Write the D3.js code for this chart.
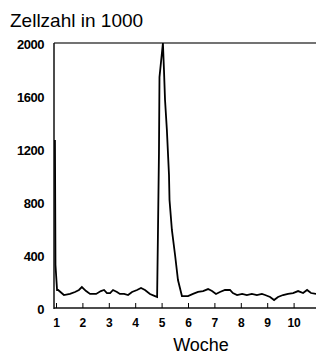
<!DOCTYPE html>
<html>
<head>
  <script src="https://cdn.jsdelivr.net/npm/d3@7/dist/d3.min.js"></script>
  <style>
    body { margin: 0; background: #fff; }
  </style>
</head>
<body>
<script>
  // weeks (Woche) and cell counts (Zellzahl in 1000)
  const weeks = [0.96, 0.98, 1.04, 1.08, 1.30, 1.53, 1.72, 1.87, 1.98, 2.14, 2.29, 2.52, 2.70, 2.82, 2.93,
    3.05, 3.16, 3.31, 3.42, 3.58, 3.73, 3.88, 4.07, 4.22, 4.37, 4.56, 4.75, 4.83, 4.86, 4.90, 4.92,
    5.05, 5.09, 5.13, 5.20, 5.28, 5.30, 5.39, 5.51, 5.62, 5.77, 6.00, 6.19, 6.38, 6.57, 6.76, 6.91,
    7.06, 7.21, 7.40, 7.59, 7.70, 7.86, 8.05, 8.23, 8.42, 8.61, 8.80, 8.92, 9.11, 9.26, 9.41, 9.60,
    9.79, 9.98, 10.17, 10.36, 10.51, 10.66, 10.85];
  const cells = [1268, 325, 136, 136, 98, 106, 121, 136, 158, 128, 106, 106, 128, 136, 113,
    113, 136, 121, 106, 106, 98, 121, 136, 151, 136, 106, 90, 83, 536, 1170, 1743,
    2000, 1796, 1570, 1343, 1004, 815, 589, 400, 211, 90, 90, 106, 121, 128, 143, 128,
    106, 121, 136, 136, 113, 98, 106, 98, 106, 98, 106, 98, 83, 60, 83, 98,
    106, 113, 128, 113, 136, 113, 106];
  const xTicks = [1, 2, 3, 4, 5, 6, 7, 8, 9, 10];
  const yTicks = [0, 400, 800, 1200, 1600, 2000];

  const width = 316, height = 356;
  const font = "Arial, 'Liberation Sans', sans-serif";
  const svg = d3.select("body").append("svg")
    .attr("width", width)
    .attr("height", height);

  const x = d3.scaleLinear().domain([1, 11]).range([56, 320]);
  const y = d3.scaleLinear().domain([0, 2000]).range([308, 43]);

  // title
  svg.append("text")
    .attr("x", 10).attr("y", 27)
    .style("font-family", font)
    .style("font-size", "19px")
    .text("Zellzahl in 1000");

  // frame: top and left
  svg.append("line")
    .attr("x1", 54).attr("x2", width)
    .attr("y1", y(2000)).attr("y2", y(2000))
    .style("stroke", "#444").style("stroke-width", 1.5);
  svg.append("line")
    .attr("x1", 54).attr("x2", 54)
    .attr("y1", y(2000)).attr("y2", y(0) + 1)
    .style("stroke", "#111").style("stroke-width", 1.5);

  // x axis
  const xAxis = svg.append("g")
    .attr("transform", `translate(0,${y(0)})`)
    .call(d3.axisBottom(x).tickValues(xTicks).tickSizeInner(-5).tickSizeOuter(0).tickPadding(10));
  xAxis.select(".domain").attr("d", `M54,0H${width}`).style("stroke", "#111").style("stroke-width", 1.5);
  xAxis.selectAll("text")
    .style("font-family", font)
    .style("font-size", "12px")
    .style("font-weight", "bold");

  // y labels (no tick marks)
  svg.append("g").selectAll("text")
    .data(yTicks)
    .enter()
    .append("text")
    .attr("x", 44)
    .attr("y", d => y(d) + 6)
    .attr("text-anchor", "end")
    .style("font-family", font)
    .style("font-size", "13px")
    .style("font-weight", "bold")
    .style("letter-spacing", "-0.5px")
    .text(d => d);

  // axis title
  svg.append("text")
    .attr("x", 201).attr("y", 351)
    .attr("text-anchor", "middle")
    .style("font-family", font)
    .style("font-size", "18px")
    .text("Woche");

  // data line
  const pts = weeks.map((w, i) => [w, cells[i]]);
  svg.append("path")
    .datum(pts)
    .attr("d", d3.line().x(d => x(d[0])).y(d => y(d[1])))
    .style("fill", "none")
    .style("stroke", "#000")
    .style("stroke-width", 1.8)
    .style("stroke-linejoin", "miter");
</script>
</body>
</html>
